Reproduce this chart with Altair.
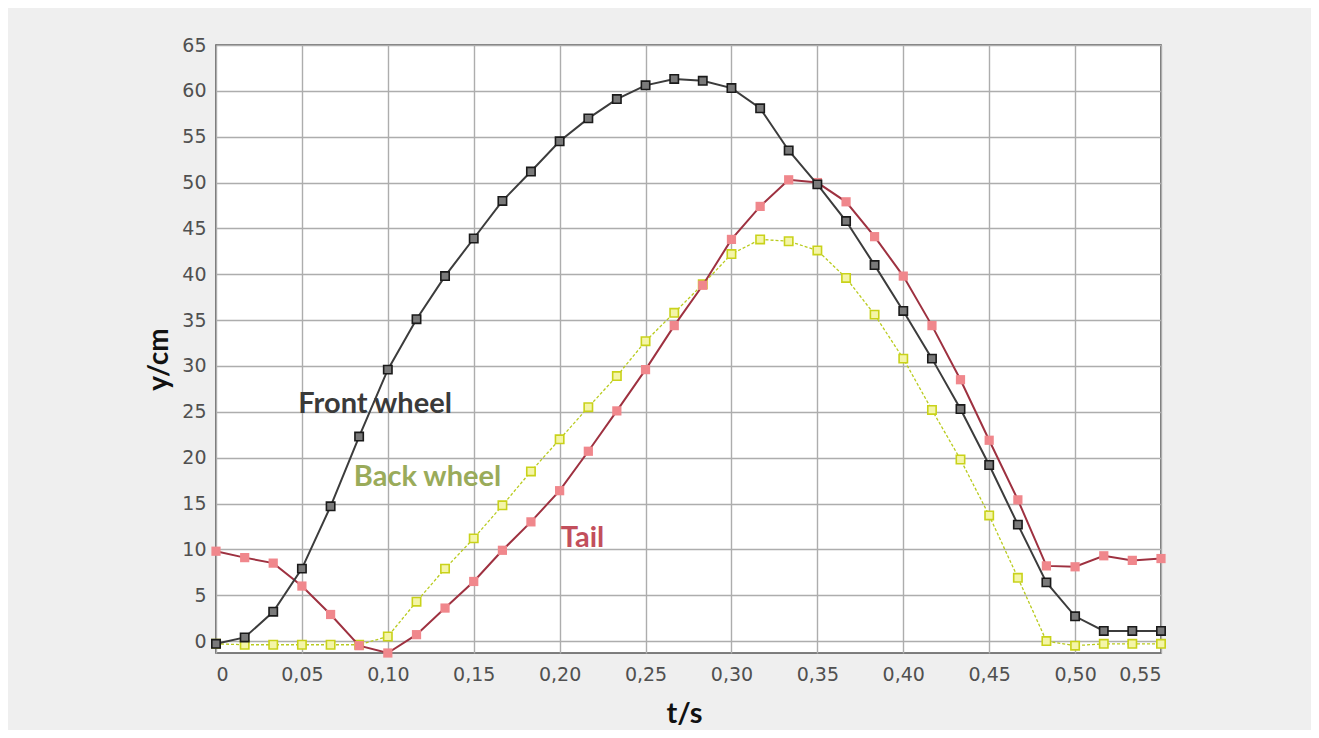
import altair as alt
import pandas as pd

# time (s)
t = [0.0, 0.0167, 0.0333, 0.05, 0.0667, 0.0833, 0.1, 0.1167, 0.1333, 0.15,
     0.1667, 0.1833, 0.2, 0.2167, 0.2333, 0.25, 0.2667, 0.2833, 0.3, 0.3167,
     0.3333, 0.35, 0.3667, 0.3833, 0.4, 0.4167, 0.4333, 0.45, 0.4667, 0.4833,
     0.5, 0.5167, 0.5333, 0.55]

front = [-0.3, 0.4, 3.2, 7.9, 14.7, 22.3, 29.6, 35.1, 39.8, 43.9,
         48.0, 51.2, 54.5, 57.0, 59.1, 60.6, 61.3, 61.1, 60.3, 58.1,
         53.5, 49.8, 45.8, 41.0, 36.0, 30.8, 25.3, 19.2, 12.7, 6.4,
         2.7, 1.1, 1.1, 1.1]

back = [-0.3, -0.4, -0.4, -0.4, -0.4, -0.4, 0.5, 4.3, 7.9, 11.2,
        14.8, 18.5, 22.0, 25.5, 28.9, 32.7, 35.8, 38.9, 42.2, 43.8,
        43.6, 42.6, 39.6, 35.6, 30.8, 25.2, 19.8, 13.7, 6.9, 0.0,
        -0.5, -0.3, -0.3, -0.3]

tail = [9.8, 9.1, 8.5, 6.0, 2.9, -0.5, -1.3, 0.7, 3.6, 6.5,
        9.9, 13.0, 16.4, 20.7, 25.1, 29.6, 34.4, 38.8, 43.8, 47.4,
        50.3, 50.0, 47.9, 44.1, 39.8, 34.4, 28.5, 21.9, 15.4, 8.2,
        8.1, 9.3, 8.8, 9.0]

label_text = ["Front wheel", "Back wheel", "Tail"]
label_t = [0.0926, 0.1231, 0.2133]
label_y = [25.8, 17.9, 11.2]
label_color = ["#3a3a3a", "#9aab5a", "#c24f5c"]

x_ticks = [0, 0.05, 0.10, 0.15, 0.20, 0.25, 0.30, 0.35, 0.40, 0.45, 0.50, 0.55]
y_ticks = [0, 5, 10, 15, 20, 25, 30, 35, 40, 45, 50, 55, 60, 65]

df = pd.DataFrame({"t": t, "front": front, "back": back, "tail": tail})
lab = pd.DataFrame({"text": label_text, "t": label_t, "y": label_y, "color": label_color})

xscale = alt.Scale(domain=[0, 0.55], nice=False, zero=False)
yscale = alt.Scale(domain=[-1.3, 65], nice=False, zero=False)

xaxis = alt.Axis(
    values=x_ticks,
    labelExpr="datum.value == 0 ? '0' : replace(format(datum.value, '.2f'), '.', ',')",
    title="t/s", titleX=468, titleY=60, titleAlign="center", titleBaseline="middle",
    titleFont="Lato", titleFontSize=29, titleFontWeight="bold", titleColor="#111",
    labelPadding=12,
)
yaxis = alt.Axis(
    values=y_ticks,
    title="y/cm", titleX=-57, titleY=314, titleAngle=270, titleAlign="center",
    titleBaseline="middle", titleFont="Lato", titleFontSize=28, titleFontWeight="bold",
    titleColor="#111", labelPadding=10,
)

base = alt.Chart(df)


def series(col, line_color, line_width, dash, fill, stroke, size):
    x = alt.X("t:Q", scale=xscale, axis=xaxis)
    y = alt.Y(f"{col}:Q", scale=yscale, axis=yaxis)
    line_kwargs = dict(color=line_color, strokeWidth=line_width, clip=False)
    if dash:
        line_kwargs["strokeDash"] = dash
    ln = base.mark_line(**line_kwargs).encode(x=x, y=y)
    pt_kwargs = dict(shape="square", size=size, filled=True, fill=fill, opacity=1, clip=False)
    if stroke:
        pt_kwargs["stroke"] = stroke
        pt_kwargs["strokeWidth"] = 1.6
    pt = base.mark_point(**pt_kwargs).encode(x=x, y=y)
    return ln, pt


back_ln, back_pt = series("back", "#b9cb1e", 1.3, [3, 2], "#f4f5a8", "#c9d21a", 70)
tail_ln, tail_pt = series("tail", "#9e3140", 2.0, None, "#f0878c", None, 85)
front_ln, front_pt = series("front", "#3c3c3c", 2.0, None, "#7a7a7a", "#1a1a1a", 70)

labels = alt.Chart(lab).mark_text(
    font="Lato", fontSize=29, fontWeight="bold", align="center", baseline="middle"
).encode(
    x=alt.X("t:Q", scale=xscale, axis=xaxis),
    y=alt.Y("y:Q", scale=yscale, axis=yaxis),
    text="text:N",
    color=alt.Color("color:N", scale=None),
)

chart = alt.layer(
    back_ln, back_pt, tail_ln, tail_pt, front_ln, front_pt, labels
).properties(
    width=945, height=608,
    padding={"left": 208, "top": 37, "right": 150, "bottom": 77},
    autosize=alt.AutoSizeParams(type="none"),
    background="#efefef",
).configure_view(
    fill="white", stroke="#555555", strokeWidth=1.6,
).configure_axis(
    domain=False, ticks=False, grid=True, gridColor="#adadad", gridWidth=1.4,
    labelFont="DejaVu Sans", labelFontSize=19, labelColor="#505050",
)

chart.save("out.html", embed_options={"renderer": "svg", "actions": False})
